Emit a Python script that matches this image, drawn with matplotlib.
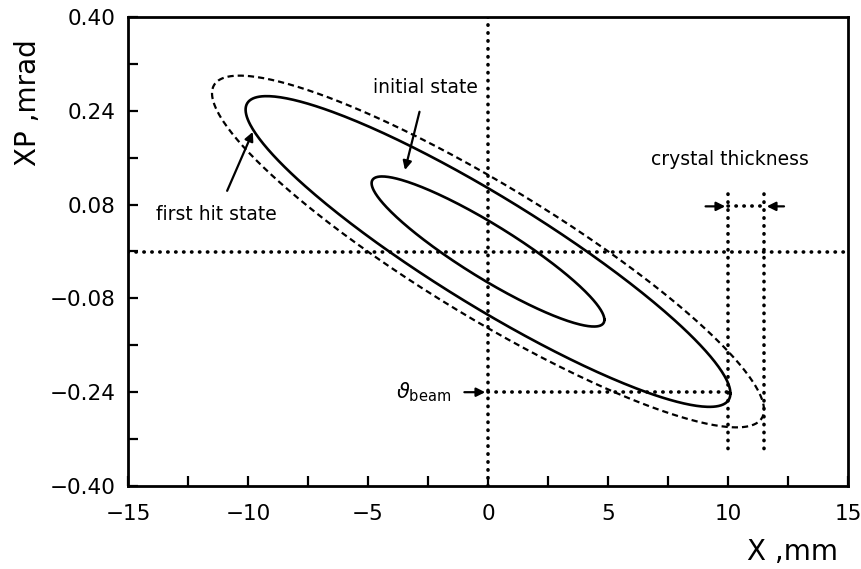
import numpy as np
import matplotlib
matplotlib.use('Agg')
import matplotlib.pyplot as plt

# Phase-space ellipses: max X (mm), max XP (mrad), X-XP correlation
ellipse_names = ['initial state', 'first hit state', 'envelope']
x_max = [4.85, 10.1, 11.5]
xp_max = [0.128, 0.265, 0.300]
corr = [-0.91, -0.913, -0.90]
styles = ['solid', 'solid', 'dashed']

# Crystal edges and beam angle
crystal_x = [10.0, 11.5]
theta_beam = -0.24

x_ticks = [-15, -10, -5, 0, 5, 10, 15]
y_ticks = [0.40, 0.24, 0.08, -0.08, -0.24, -0.40]
y_labels = ['0.40', '0.24', '0.08', '\u22120.08', '\u22120.24', '\u22120.40']

plt.rcParams['font.family'] = ['DejaVu Sans']
plt.rcParams['mathtext.fontset'] = 'dejavusans'

fig = plt.figure(figsize=(8.62, 5.69), dpi=100)
ax = fig.add_axes([128 / 862, 83 / 569, 720 / 862, 469 / 569])

dot = dict(color='black', lw=2.6, linestyle=(0, (0.1, 2.1)), dash_capstyle='round')

# reference lines through the origin
ax.axhline(0, **dot)
ax.axvline(0, **dot)

# ellipses
t = np.linspace(0, 2 * np.pi, 400)
for X, Y, c, s in zip(x_max, xp_max, corr, styles):
    d = np.arccos(c)
    xs = X * np.cos(t)
    ys = Y * np.cos(t - d)
    if s == 'solid':
        ax.plot(xs, ys, color='black', lw=1.9)
    else:
        ax.plot(xs, ys, color='black', lw=1.6, linestyle=(0, (2.8, 1.8)))

# crystal thickness marks
for cx in crystal_x:
    ax.plot([cx, cx], [0.098, -0.345], **dot)
ax.plot(crystal_x, [0.077, 0.077], **dot)
arr = dict(arrowstyle='-|>', color='black', lw=1.6, mutation_scale=13)
ax.annotate('', xy=(crystal_x[0], 0.077), xytext=(8.95, 0.077), arrowprops=arr)
ax.annotate('', xy=(crystal_x[1], 0.077), xytext=(12.45, 0.077), arrowprops=arr)
ax.text(10.1, 0.157, 'crystal thickness', fontsize=13.5, ha='center', va='center')

# beam angle
ax.plot([0, crystal_x[0]], [theta_beam, theta_beam], **dot)
ax.annotate('', xy=(0, theta_beam), xytext=(-1.1, theta_beam), arrowprops=arr)
ax.text(-1.55, theta_beam, r'$\vartheta_{\rm beam}$', fontsize=15, ha='right', va='center')

# labels with arrows
ax.annotate('initial state', xy=(-3.46, 0.139), xytext=(-2.6, 0.28),
            fontsize=13.5, ha='center', va='center',
            arrowprops=dict(arrowstyle='-|>', color='black', lw=1.6,
                            mutation_scale=13, shrinkA=9, shrinkB=0))
ax.annotate('first hit state', xy=(-9.8, 0.204), xytext=(-11.3, 0.063),
            fontsize=13.5, ha='center', va='center',
            arrowprops=dict(arrowstyle='-|>', color='black', lw=1.6,
                            mutation_scale=13, shrinkA=9, shrinkB=0))

ax.set_xlim(-15, 15)
ax.set_ylim(-0.40, 0.40)
ax.set_xticks(x_ticks)
ax.set_xticks(np.arange(-15, 15.1, 2.5), minor=True)
ax.set_yticks(y_ticks)
ax.set_yticklabels(y_labels)
ax.set_yticks(np.arange(-0.40, 0.401, 0.08), minor=True)
ax.tick_params(which='both', direction='in', width=1.6, top=False, right=False)
ax.tick_params(which='major', length=7, labelsize=15.5)
ax.tick_params(which='minor', length=7)
ax.tick_params(axis='x', which='major', pad=13)
ax.tick_params(axis='y', which='major', pad=9)
for sp in ax.spines.values():
    sp.set_linewidth(2.0)

fig.text(28 / 862, 1 - 103 / 569, 'XP ,mrad', rotation=90, fontsize=20,
         ha='center', va='center')
fig.text(793 / 862, 1 - 552 / 569, 'X ,mm', fontsize=20, ha='center', va='center')

fig.savefig('out.png', dpi=100)
